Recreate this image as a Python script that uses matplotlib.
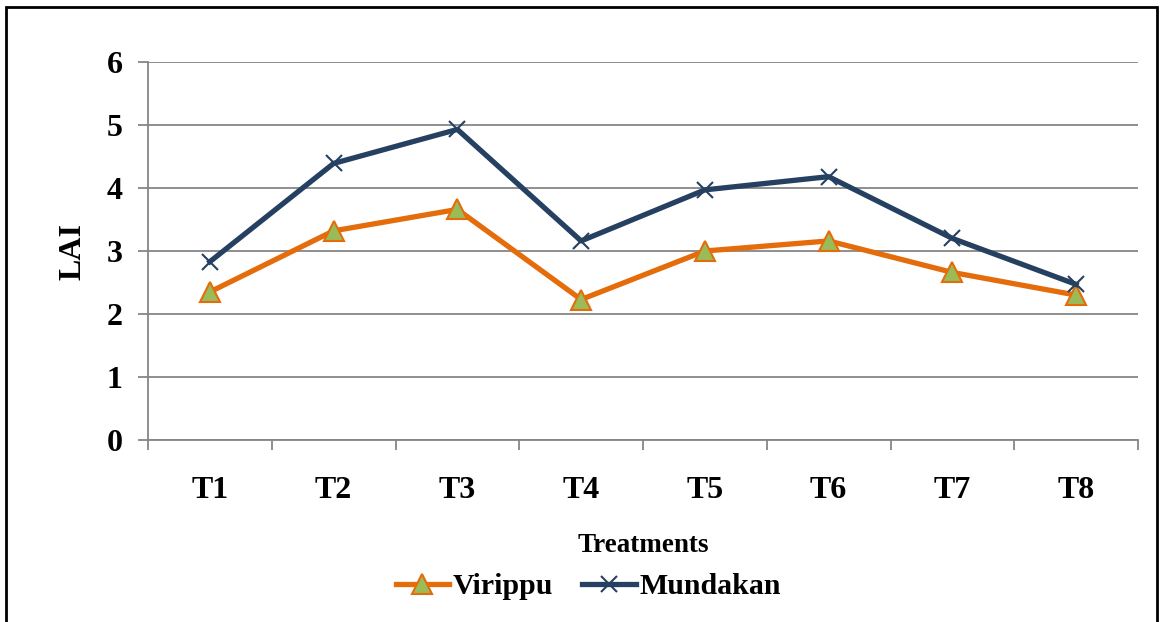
import matplotlib
matplotlib.use("Agg")
import matplotlib.pyplot as plt
from matplotlib.patches import Rectangle

# data
treatments = ["T1", "T2", "T3", "T4", "T5", "T6", "T7", "T8"]
virippu = [2.35, 3.32, 3.66, 2.23, 3.00, 3.16, 2.66, 2.30]
mundakan = [2.83, 4.39, 4.93, 3.16, 3.97, 4.18, 3.20, 2.47]

plt.rcParams['font.family'] = ['Liberation Serif', 'DejaVu Serif']
plt.rcParams['font.weight'] = 'bold'

fig = plt.figure(figsize=(11.6, 6.22), dpi=100)
ax = fig.add_axes([148/1160, 1-440/622, 990/1160, 378/622])

x = range(len(treatments))
ax.plot(x, virippu, color='#E46C0A', lw=3.8, marker='^', ms=14,
        mfc='#9BBB59', mec='#E46C0A', mew=1.5, label='Virippu', zorder=3)
ax.plot(x, mundakan, color='#254061', lw=3.8, marker='x', ms=12,
        mew=1.5, label='Mundakan', zorder=3)

ax.set_xlim(-0.5, len(treatments) - 0.5)
ax.set_ylim(0, 6)
ax.set_yticks(range(0, 7))
ax.set_xticks(list(x))
ax.set_xticklabels(treatments)
ax.set_xticks([i - 0.5 for i in range(len(treatments) + 1)], minor=True)

ax.grid(axis='y', color='#868686', lw=1.3)
ax.set_axisbelow(True)
for s in ['top', 'right']:
    ax.spines[s].set_visible(False)
ax.spines['left'].set_color('#868686')
ax.spines['bottom'].set_color('#868686')
ax.spines['left'].set_linewidth(1.3)
ax.spines['bottom'].set_linewidth(1.3)

ax.tick_params(axis='y', colors='#868686', length=7.2, width=1.3, labelsize=23,
               labelcolor='black', pad=11)
ax.tick_params(axis='x', which='major', length=0, labelsize=23, pad=26)
ax.tick_params(axis='x', which='minor', colors='#868686', length=7.2, width=1.3)
for lab in ax.get_xticklabels() + ax.get_yticklabels():
    lab.set_fontweight('bold')

ax.set_ylabel('LAI', fontsize=23, fontweight='bold', labelpad=14)
ax.set_xlabel('Treatments', fontsize=19.5, fontweight='bold', labelpad=20)

leg = fig.legend(loc='center', bbox_to_anchor=(0.507, 1-587/622), ncol=2,
                 frameon=False, fontsize=21.5, handlelength=1.8,
                 columnspacing=1.0, handletextpad=0.1)
for t in leg.get_texts():
    t.set_fontweight('bold')

fig.patches.append(Rectangle((6/1160, -0.02), 1151/1160, 1.02 - 7/622,
                             transform=fig.transFigure, fill=False,
                             edgecolor='black', lw=2))

fig.savefig('out.png', dpi=100)
